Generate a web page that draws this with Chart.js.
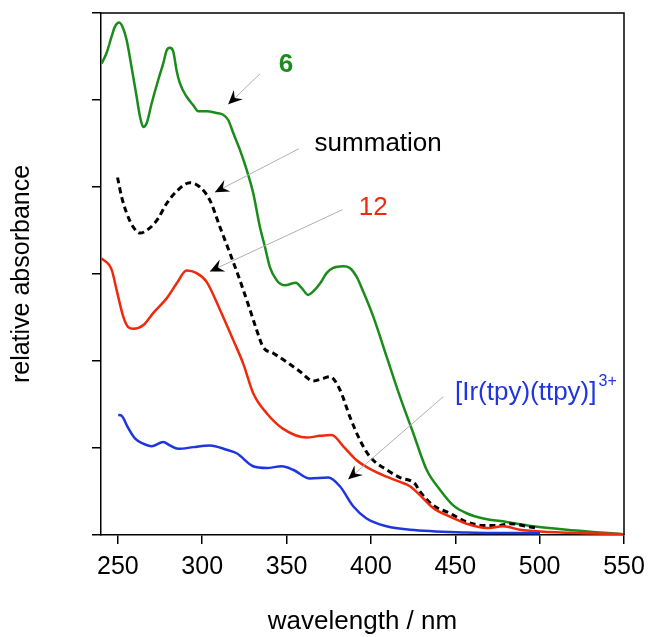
<!DOCTYPE html>
<html>
<head>
<meta charset="utf-8">
<script src="https://cdn.jsdelivr.net/npm/chart.js@4/dist/chart.umd.min.js"></script>
<style>
  body { margin: 0; background: #fff; }
  #wrap { width: 649px; height: 637px; }
</style>
</head>
<body>
<div id="wrap"><canvas id="myChart" width="649" height="637"></canvas></div>
<script>
// tick values
const xTicks = [250, 300, 350, 400, 450, 500, 550];
const yTicks = [0, 1, 2, 3, 4, 5, 6];

// 6 (green)
const lambda6 = [240.4, 243.3, 246.3, 248.2, 250.8, 253.2, 255.2, 258.1, 261.1, 263.1, 265.0, 267.0, 270.0, 273.9, 276.9, 278.9, 280.8, 282.8, 284.8, 286.8, 290.7, 294.7, 297.6, 302.6, 308.5, 312.4, 315.4, 318.4, 322.3, 326.3, 330.2, 334.2, 337.2, 340.1, 344.1, 346.0, 349.0, 355.5, 358.9, 362.8, 365.8, 369.8, 373.7, 377.6, 383.6, 387.5, 391.5, 395.4, 401.4, 409.3, 417.2, 425.1, 433.0, 440.9, 448.8, 456.7, 466.6, 480.4, 496.2, 516.0, 535.8, 549.5];
const abs6 = [5.42, 5.54, 5.73, 5.84, 5.89, 5.82, 5.69, 5.38, 5.04, 4.81, 4.69, 4.73, 4.96, 5.23, 5.42, 5.57, 5.60, 5.56, 5.34, 5.19, 5.04, 4.94, 4.87, 4.87, 4.85, 4.83, 4.77, 4.62, 4.43, 4.20, 3.93, 3.54, 3.31, 3.08, 2.93, 2.89, 2.87, 2.90, 2.84, 2.76, 2.80, 2.89, 3.01, 3.07, 3.09, 3.07, 2.97, 2.80, 2.51, 2.05, 1.59, 1.17, 0.75, 0.52, 0.34, 0.25, 0.19, 0.15, 0.10, 0.06, 0.03, 0.01];

// summation (black dashed)
const lambdaSum = [249.8, 252.2, 255.2, 259.1, 263.1, 269.0, 273.9, 278.9, 284.8, 292.7, 298.6, 304.5, 310.5, 316.4, 322.3, 328.3, 332.2, 336.1, 342.1, 350.0, 357.9, 365.8, 371.7, 375.7, 381.6, 387.5, 393.5, 399.4, 409.3, 417.2, 426.1, 429.0, 436.9, 446.8, 456.7, 466.6, 476.5, 482.4, 492.3, 498.2];
const absSum = [4.11, 3.89, 3.70, 3.54, 3.47, 3.53, 3.64, 3.81, 3.95, 4.05, 4.00, 3.85, 3.54, 3.24, 2.93, 2.59, 2.36, 2.16, 2.09, 1.99, 1.88, 1.77, 1.80, 1.82, 1.67, 1.36, 1.09, 0.90, 0.75, 0.66, 0.59, 0.50, 0.34, 0.25, 0.15, 0.11, 0.11, 0.13, 0.10, 0.08];

// 12 (red)
const lambda12 = [240.4, 246.3, 249.2, 253.2, 256.1, 259.1, 265.0, 270.9, 278.9, 284.8, 290.7, 296.7, 302.6, 310.5, 318.4, 324.3, 330.2, 338.2, 348.0, 361.9, 369.8, 376.7, 383.6, 391.5, 399.4, 409.3, 417.2, 423.1, 429.0, 436.9, 446.8, 456.7, 468.6, 478.4, 488.3, 500.2, 525.8, 549.5];
const abs12 = [3.18, 3.05, 2.82, 2.51, 2.39, 2.37, 2.41, 2.55, 2.72, 2.89, 3.04, 3.01, 2.91, 2.59, 2.24, 1.97, 1.63, 1.40, 1.22, 1.12, 1.14, 1.15, 1.02, 0.86, 0.76, 0.67, 0.61, 0.56, 0.46, 0.31, 0.21, 0.13, 0.08, 0.10, 0.06, 0.04, 0.02, 0.01];

// [Ir(tpy)(ttpy)]3+ (blue)
const lambdaIr = [250.2, 252.2, 256.1, 260.1, 265.0, 270.0, 276.9, 280.8, 285.8, 294.7, 304.6, 314.5, 320.4, 330.2, 338.2, 347.1, 353.9, 363.8, 374.7, 381.6, 389.5, 397.4, 409.3, 423.1, 456.7, 500.2];
const absIr = [1.38, 1.37, 1.23, 1.11, 1.05, 1.02, 1.07, 1.03, 0.99, 1.01, 1.03, 0.98, 0.94, 0.79, 0.77, 0.79, 0.75, 0.65, 0.66, 0.56, 0.33, 0.19, 0.10, 0.06, 0.03, 0.02];

const FONT = "'Liberation Sans', Arial, sans-serif";
const GREEN = '#1b8c1b';
const RED = '#ef2a0c';
const BLUE = '#1f35e0';

// labels + arrows, in data units (x = nm, y = absorbance)
const labels = [
  { text: '6', x: 349.6, y: 5.40, color: GREEN, bold: true, align: 'center', from: [334.2, 5.30], to: [315.4, 4.95] },
  { text: 'summation', x: 404.3, y: 4.50, color: '#000', align: 'center', from: [357.3, 4.44], to: [307.5, 3.94] },
  { text: '12', x: 401.3, y: 3.76, color: RED, align: 'center', from: [383.2, 3.74], to: [304.5, 3.03] },
  { text: '[Ir(tpy)(ttpy)]', sup: '3+', x: 449.8, y: 1.63, color: BLUE, align: 'left', from: [442.9, 1.59], to: [386.5, 0.64] }
];

const toPts = (xs, ys) => xs.map((x, i) => ({ x: x, y: ys[i] }));

const annotate = {
  id: 'annotate',
  afterDatasetsDraw(chart) {
    const ctx = chart.ctx;
    const xs = chart.scales.x, ys = chart.scales.y;
    ctx.save();
    labels.forEach(l => {
      const x0 = xs.getPixelForValue(l.from[0]), y0 = ys.getPixelForValue(l.from[1]);
      const x1 = xs.getPixelForValue(l.to[0]), y1 = ys.getPixelForValue(l.to[1]);
      ctx.strokeStyle = '#b0b0b0';
      ctx.lineWidth = 1;
      ctx.beginPath();
      ctx.moveTo(x0, y0);
      ctx.lineTo(x1, y1);
      ctx.stroke();
      // arrow head
      const a = Math.atan2(y1 - y0, x1 - x0);
      ctx.save();
      ctx.translate(x1, y1);
      ctx.rotate(a);
      ctx.fillStyle = '#000';
      ctx.beginPath();
      ctx.moveTo(0, 0);
      ctx.lineTo(-14, -6.5);
      ctx.lineTo(-9, 0);
      ctx.lineTo(-14, 6.5);
      ctx.closePath();
      ctx.fill();
      ctx.restore();
      // text
      const px = xs.getPixelForValue(l.x), py = ys.getPixelForValue(l.y);
      ctx.fillStyle = l.color;
      ctx.font = (l.bold ? 'bold ' : '') + '26px ' + FONT;
      ctx.textAlign = l.align;
      ctx.textBaseline = 'middle';
      ctx.fillText(l.text, px, py);
      if (l.sup) {
        const w = ctx.measureText(l.text).width;
        ctx.font = '16px ' + FONT;
        ctx.textAlign = 'left';
        ctx.fillText(l.sup, px + w + 2, py - 12);
      }
    });
    ctx.restore();
  },
  afterDraw(chart) {
    const { left, right, top, bottom } = chart.chartArea;
    const ctx = chart.ctx;
    ctx.save();
    ctx.strokeStyle = '#000';
    ctx.lineWidth = 1.5;
    ctx.beginPath();
    ctx.moveTo(left, top);
    ctx.lineTo(right, top);
    ctx.lineTo(right, bottom);
    ctx.stroke();
    ctx.restore();
  }
};

const line = (data, color, extra) => Object.assign({
  data: data,
  borderColor: color,
  borderWidth: 2.5,
  pointRadius: 0,
  cubicInterpolationMode: 'monotone',
  fill: false
}, extra || {});

new Chart(document.getElementById('myChart'), {
  type: 'line',
  data: {
    datasets: [
      line(toPts(lambdaIr, absIr), BLUE),
      line(toPts(lambda12, abs12), RED),
      line(toPts(lambdaSum, absSum), '#000', { borderDash: [6, 4], borderWidth: 3 }),
      line(toPts(lambda6, abs6), GREEN)
    ]
  },
  options: {
    responsive: false,
    animation: false,
    layout: { padding: { top: 13, right: 25, left: 0, bottom: 0 } },
    plugins: { legend: { display: false }, tooltip: { enabled: false } },
    scales: {
      x: {
        type: 'linear',
        min: 240,
        max: 550,
        afterBuildTicks: s => { s.ticks = xTicks.map(v => ({ value: v })); },
        afterFit: s => { s.height = 102; s.paddingLeft = 0; s.paddingRight = 0; },
        ticks: { color: '#000', font: { family: FONT, size: 25 }, padding: 8, maxRotation: 0 },
        grid: { drawOnChartArea: false, tickLength: 9, color: '#000', lineWidth: 1.5 },
        border: { color: '#000', width: 1.5 },
        title: { display: true, text: 'wavelength / nm', color: '#000', font: { family: FONT, size: 26 }, padding: { top: 0, bottom: 0 } }
      },
      y: {
        min: 0,
        max: 6,
        afterBuildTicks: s => { s.ticks = yTicks.map(v => ({ value: v })); },
        afterFit: s => { s.width = 101; },
        ticks: { display: false },
        grid: { drawOnChartArea: false, tickLength: 9, color: '#000', lineWidth: 1.5 },
        border: { color: '#000', width: 1.5 },
        title: { display: true, text: 'relative absorbance', color: '#000', font: { family: FONT, size: 25 }, padding: { top: 7, bottom: 0 } }
      }
    }
  },
  plugins: [annotate]
});
</script>
</body>
</html>
